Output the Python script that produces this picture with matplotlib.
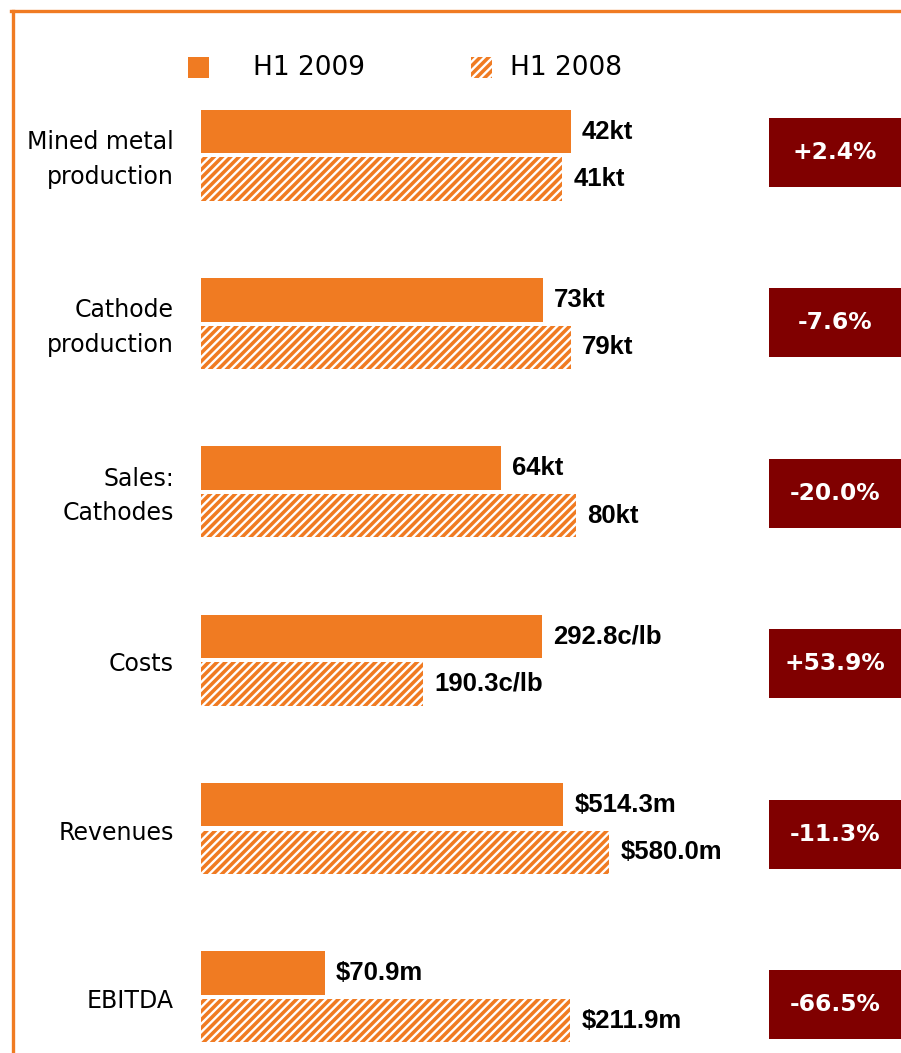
import matplotlib
matplotlib.use("Agg")
import matplotlib.pyplot as plt
from matplotlib.patches import Rectangle
from matplotlib.lines import Line2D

# ---- data ----
categories = ["Mined metal\nproduction", "Cathode\nproduction", "Sales:\nCathodes",
              "Costs", "Revenues", "EBITDA"]
h1_2009 = [42, 73, 64, 292.8, 514.3, 70.9]
h1_2008 = [41, 79, 80, 190.3, 580.0, 211.9]
labels_2009 = ["42kt", "73kt", "64kt", "292.8c/lb", "$514.3m", "$70.9m"]
labels_2008 = ["41kt", "79kt", "80kt", "190.3c/lb", "$580.0m", "$211.9m"]
changes = ["+2.4%", "-7.6%", "-20.0%", "+53.9%", "-11.3%", "-66.5%"]
series_names = ["H1 2009", "H1 2008"]
# each row has its own full-scale value (rows are scaled independently)
row_full_scale = [61.3, 115.3, 115.2, 463, 767, 310]

ORANGE = "#F07B22"
MAROON = "#800000"
W, H = 901, 1053

plt.rcParams['hatch.linewidth'] = 1.7

fig = plt.figure(figsize=(W / 100, H / 100), dpi=100)

def fx(x):
    return x / W

def fy(y):
    return 1 - y / H

# frame (left and top only)
fig.add_artist(Line2D([fx(12.5), fx(12.5)], [fy(10.5), fy(1060)], color=ORANGE, lw=2.4,
                      transform=fig.transFigure))
fig.add_artist(Line2D([fx(11), fx(910)], [fy(10.5), fy(10.5)], color=ORANGE, lw=2.4,
                      transform=fig.transFigure))

# legend
fig.add_artist(Rectangle((fx(188), fy(78)), fx(21), 21 / H, facecolor=ORANGE,
                         edgecolor='none', transform=fig.transFigure))
fig.text(fx(253), fy(68), series_names[0], fontsize=19, va='center', ha='left',
         family='DejaVu Sans')
fig.add_artist(Rectangle((fx(471), fy(78)), fx(21), 21 / H, facecolor=ORANGE,
                         edgecolor='white', lw=0, hatch='////', transform=fig.transFigure))
fig.text(fx(510), fy(68), series_names[1], fontsize=19, va='center', ha='left',
         family='DejaVu Sans')

row_center0 = 155.3
row_step = 168.3
unit = 47.5  # px per bar slot
ax_x0, ax_w = 201, 540

box_center0 = 152.5
box_step = 170.4

for i, cat in enumerate(categories):
    cy = row_center0 + i * row_step
    top = cy - 1.1 * unit
    ax = fig.add_axes([fx(ax_x0), fy(top + 2.2 * unit), ax_w / W, 2.2 * unit / H])
    ax.set_xlim(0, row_full_scale[i])
    ax.set_ylim(-0.6, 1.6)
    ax.axis('off')
    ax.barh(1, h1_2009[i], height=0.915, color=ORANGE, lw=0)
    ax.barh(0, h1_2008[i], height=0.915, facecolor=ORANGE, edgecolor='white',
            lw=0, hatch='////')
    ax.annotate(labels_2009[i], (h1_2009[i], 1), xytext=(8, 0), textcoords='offset points',
                ha='left', va='center', fontsize=18.5, fontweight='bold',
                family='Liberation Sans')
    ax.annotate(labels_2008[i], (h1_2008[i], 0), xytext=(8, 0), textcoords='offset points',
                ha='left', va='center', fontsize=18.5, fontweight='bold',
                family='Liberation Sans')
    # category label
    fig.text(fx(174), fy(cy + 4), cat, ha='right', va='center', fontsize=17,
             family='DejaVu Sans', linespacing=1.55)
    # change box
    bc = box_center0 + i * box_step
    fig.add_artist(Rectangle((fx(769), fy(bc + 34.5)), fx(140), 69 / H,
                             facecolor=MAROON, edgecolor='none', transform=fig.transFigure))
    fig.text(fx(835), fy(bc), changes[i], ha='center', va='center', color='white',
             fontsize=16.8, fontweight='bold', family='DejaVu Sans')

fig.savefig("out.png", dpi=100, facecolor='white')
